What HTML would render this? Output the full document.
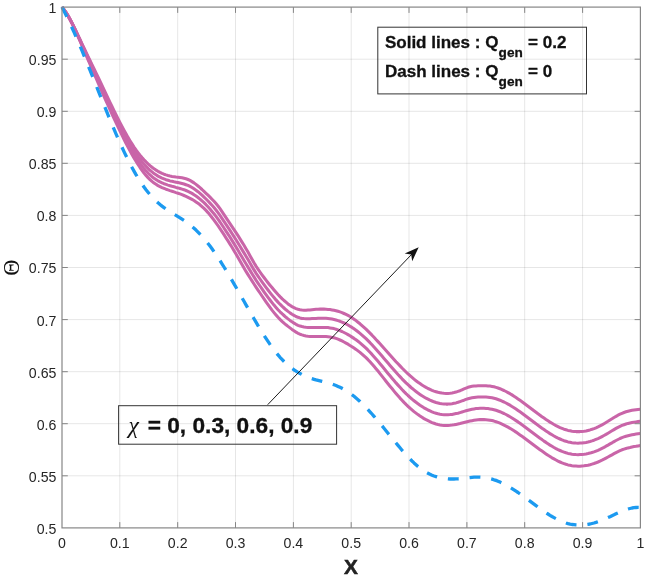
<!DOCTYPE html>
<html><head><meta charset="utf-8"><title>Plot</title>
<style>html,body{margin:0;padding:0;background:#fff}svg{display:block}text{font-family:"Liberation Sans",sans-serif}</style></head><body>
<svg width="645" height="577" viewBox="0 0 645 577">
<rect width="645" height="577" fill="#fff"/>
<path d="M119.8 7.1 V527.9 M177.7 7.1 V527.9 M235.5 7.1 V527.9 M293.4 7.1 V527.9 M351.2 7.1 V527.9 M409.0 7.1 V527.9 M466.9 7.1 V527.9 M524.7 7.1 V527.9 M582.6 7.1 V527.9" stroke="#000" stroke-opacity="0.105" stroke-width="0.95" fill="none"/>
<path d="M62.0 59.2 H640.4 M62.0 111.3 H640.4 M62.0 163.3 H640.4 M62.0 215.4 H640.4 M62.0 267.5 H640.4 M62.0 319.6 H640.4 M62.0 371.7 H640.4 M62.0 423.7 H640.4 M62.0 475.8 H640.4" stroke="#000" stroke-opacity="0.105" stroke-width="0.95" fill="none"/>
<path d="M62.0 7.1 L64.0 9.6 L66.0 12.5 L68.0 15.8 L70.0 19.5 L72.0 23.4 L74.0 27.6 L76.0 31.9 L78.0 36.4 L80.0 41.0 L82.0 45.6 L84.0 50.3 L86.0 54.9 L88.0 59.6 L90.0 64.2 L92.0 68.8 L94.0 73.4 L96.0 78.0 L98.0 82.6 L100.0 87.2 L102.0 91.8 L104.0 96.3 L106.0 100.8 L108.0 105.2 L110.0 109.7 L112.0 114.1 L114.0 118.4 L116.0 122.7 L118.0 126.9 L120.0 131.1 L122.0 135.2 L124.0 139.3 L126.0 143.2 L128.0 147.0 L130.0 150.8 L132.0 154.4 L134.0 157.9 L136.0 161.2 L138.0 164.5 L140.0 167.5 L142.0 170.3 L144.0 173.0 L146.0 175.4 L148.0 177.6 L150.0 179.6 L152.0 181.4 L154.0 183.0 L156.0 184.3 L158.0 185.6 L160.0 186.6 L162.0 187.6 L164.0 188.4 L166.0 189.2 L168.0 189.9 L170.0 190.6 L172.0 191.2 L174.0 191.9 L176.0 192.6 L178.0 193.2 L180.0 193.9 L182.0 194.7 L184.0 195.5 L186.0 196.3 L188.0 197.3 L190.0 198.3 L192.0 199.4 L194.0 200.5 L196.0 201.9 L198.0 203.3 L200.0 204.8 L202.0 206.6 L204.0 208.4 L206.0 210.4 L208.0 212.6 L210.0 215.0 L212.0 217.5 L214.0 220.1 L216.0 222.9 L218.0 225.7 L220.0 228.6 L222.0 231.6 L224.0 234.7 L226.0 237.8 L228.0 240.9 L230.0 244.1 L232.0 247.3 L234.0 250.7 L236.0 254.1 L238.0 257.6 L240.0 261.1 L242.0 264.6 L244.0 268.0 L246.0 271.4 L248.0 274.6 L250.0 277.8 L252.0 280.9 L254.0 284.0 L256.0 287.1 L258.0 290.1 L260.0 293.0 L262.0 296.0 L264.0 298.9 L266.0 301.8 L268.0 304.6 L270.0 307.4 L272.0 310.1 L274.0 312.6 L276.0 315.0 L278.0 317.3 L280.0 319.4 L282.0 321.3 L284.0 323.1 L286.0 324.8 L288.0 326.4 L290.0 327.9 L292.0 329.4 L294.0 330.8 L296.0 332.1 L298.0 333.3 L300.0 334.2 L302.0 334.9 L304.0 335.5 L306.0 335.9 L308.0 336.2 L310.0 336.4 L312.0 336.5 L314.0 336.5 L316.0 336.5 L318.0 336.5 L320.0 336.5 L322.0 336.5 L324.0 336.5 L326.0 336.6 L328.0 336.8 L330.0 337.0 L332.0 337.4 L334.0 337.8 L336.0 338.4 L338.0 339.2 L340.0 340.0 L342.0 340.9 L344.0 342.0 L346.0 343.1 L348.0 344.2 L350.0 345.5 L352.0 346.7 L354.0 348.0 L356.0 349.4 L358.0 350.9 L360.0 352.4 L362.0 354.1 L364.0 355.9 L366.0 357.7 L368.0 359.7 L370.0 361.8 L372.0 364.0 L374.0 366.3 L376.0 368.7 L378.0 371.1 L380.0 373.6 L382.0 376.1 L384.0 378.6 L386.0 381.2 L388.0 383.7 L390.0 386.2 L392.0 388.6 L394.0 391.1 L396.0 393.5 L398.0 395.8 L400.0 398.1 L402.0 400.2 L404.0 402.4 L406.0 404.4 L408.0 406.3 L410.0 408.2 L412.0 409.9 L414.0 411.6 L416.0 413.1 L418.0 414.6 L420.0 416.0 L422.0 417.3 L424.0 418.6 L426.0 419.7 L428.0 420.7 L430.0 421.7 L432.0 422.6 L434.0 423.3 L436.0 424.0 L438.0 424.5 L440.0 424.9 L442.0 425.2 L444.0 425.4 L446.0 425.5 L448.0 425.4 L450.0 425.3 L452.0 425.1 L454.0 424.8 L456.0 424.4 L458.0 424.0 L460.0 423.6 L462.0 423.1 L464.0 422.6 L466.0 422.1 L468.0 421.6 L470.0 421.1 L472.0 420.7 L474.0 420.3 L476.0 420.0 L478.0 419.8 L480.0 419.6 L482.0 419.6 L484.0 419.6 L486.0 419.7 L488.0 419.9 L490.0 420.2 L492.0 420.6 L494.0 421.1 L496.0 421.7 L498.0 422.4 L500.0 423.2 L502.0 424.1 L504.0 425.1 L506.0 426.1 L508.0 427.2 L510.0 428.3 L512.0 429.5 L514.0 430.8 L516.0 432.1 L518.0 433.5 L520.0 434.9 L522.0 436.3 L524.0 437.7 L526.0 439.2 L528.0 440.7 L530.0 442.2 L532.0 443.7 L534.0 445.2 L536.0 446.7 L538.0 448.2 L540.0 449.7 L542.0 451.1 L544.0 452.5 L546.0 453.9 L548.0 455.3 L550.0 456.5 L552.0 457.8 L554.0 458.9 L556.0 460.0 L558.0 461.1 L560.0 462.0 L562.0 462.9 L564.0 463.6 L566.0 464.3 L568.0 464.9 L570.0 465.3 L572.0 465.7 L574.0 466.0 L576.0 466.1 L578.0 466.2 L580.0 466.2 L582.0 466.0 L584.0 465.8 L586.0 465.5 L588.0 465.2 L590.0 464.7 L592.0 464.1 L594.0 463.5 L596.0 462.8 L598.0 462.0 L600.0 461.1 L602.0 460.2 L604.0 459.2 L606.0 458.1 L608.0 457.0 L610.0 455.9 L612.0 454.8 L614.0 453.7 L616.0 452.6 L618.0 451.6 L620.0 450.7 L622.0 449.8 L624.0 449.1 L626.0 448.5 L628.0 447.9 L630.0 447.5 L632.0 447.0 L634.0 446.6 L636.0 446.3 L638.0 445.9 L640.4 445.5" stroke="#c965a8" stroke-width="3.05" fill="none" stroke-linejoin="round"/>
<path d="M62.0 7.1 L64.0 9.6 L66.0 12.5 L68.0 15.8 L70.0 19.4 L72.0 23.2 L74.0 27.3 L76.0 31.6 L78.0 36.0 L80.0 40.5 L82.0 45.0 L84.0 49.5 L86.0 54.0 L88.0 58.5 L90.0 62.9 L92.0 67.4 L94.0 71.8 L96.0 76.3 L98.0 80.7 L100.0 85.2 L102.0 89.6 L104.0 94.1 L106.0 98.5 L108.0 102.9 L110.0 107.2 L112.0 111.5 L114.0 115.8 L116.0 120.0 L118.0 124.2 L120.0 128.3 L122.0 132.3 L124.0 136.2 L126.0 140.1 L128.0 143.8 L130.0 147.4 L132.0 150.9 L134.0 154.3 L136.0 157.5 L138.0 160.5 L140.0 163.4 L142.0 166.1 L144.0 168.6 L146.0 170.9 L148.0 173.0 L150.0 174.9 L152.0 176.7 L154.0 178.2 L156.0 179.6 L158.0 180.8 L160.0 181.9 L162.0 182.8 L164.0 183.7 L166.0 184.4 L168.0 185.1 L170.0 185.7 L172.0 186.3 L174.0 186.8 L176.0 187.4 L178.0 187.9 L180.0 188.5 L182.0 189.1 L184.0 189.7 L186.0 190.5 L188.0 191.4 L190.0 192.3 L192.0 193.4 L194.0 194.7 L196.0 196.0 L198.0 197.5 L200.0 199.1 L202.0 200.9 L204.0 202.7 L206.0 204.7 L208.0 206.8 L210.0 209.0 L212.0 211.4 L214.0 213.8 L216.0 216.4 L218.0 219.2 L220.0 222.0 L222.0 225.0 L224.0 228.0 L226.0 231.1 L228.0 234.1 L230.0 237.2 L232.0 240.4 L234.0 243.6 L236.0 246.9 L238.0 250.3 L240.0 253.7 L242.0 257.1 L244.0 260.5 L246.0 263.8 L248.0 267.1 L250.0 270.4 L252.0 273.7 L254.0 276.9 L256.0 280.1 L258.0 283.1 L260.0 286.0 L262.0 288.9 L264.0 291.8 L266.0 294.6 L268.0 297.3 L270.0 300.0 L272.0 302.6 L274.0 305.1 L276.0 307.4 L278.0 309.7 L280.0 311.8 L282.0 313.7 L284.0 315.5 L286.0 317.3 L288.0 318.9 L290.0 320.4 L292.0 321.8 L294.0 323.1 L296.0 324.3 L298.0 325.3 L300.0 326.1 L302.0 326.6 L304.0 327.0 L306.0 327.3 L308.0 327.5 L310.0 327.5 L312.0 327.5 L314.0 327.5 L316.0 327.4 L318.0 327.4 L320.0 327.4 L322.0 327.4 L324.0 327.4 L326.0 327.5 L328.0 327.6 L330.0 327.9 L332.0 328.2 L334.0 328.6 L336.0 329.2 L338.0 329.9 L340.0 330.6 L342.0 331.5 L344.0 332.5 L346.0 333.5 L348.0 334.6 L350.0 335.8 L352.0 337.1 L354.0 338.4 L356.0 339.8 L358.0 341.3 L360.0 342.9 L362.0 344.6 L364.0 346.4 L366.0 348.2 L368.0 350.2 L370.0 352.3 L372.0 354.4 L374.0 356.7 L376.0 359.0 L378.0 361.3 L380.0 363.7 L382.0 366.1 L384.0 368.5 L386.0 371.0 L388.0 373.4 L390.0 375.8 L392.0 378.2 L394.0 380.5 L396.0 382.9 L398.0 385.1 L400.0 387.3 L402.0 389.5 L404.0 391.6 L406.0 393.6 L408.0 395.5 L410.0 397.3 L412.0 399.1 L414.0 400.7 L416.0 402.3 L418.0 403.8 L420.0 405.2 L422.0 406.5 L424.0 407.8 L426.0 408.9 L428.0 410.0 L430.0 410.9 L432.0 411.8 L434.0 412.6 L436.0 413.2 L438.0 413.8 L440.0 414.2 L442.0 414.5 L444.0 414.7 L446.0 414.8 L448.0 414.7 L450.0 414.6 L452.0 414.4 L454.0 414.0 L456.0 413.6 L458.0 413.2 L460.0 412.6 L462.0 412.0 L464.0 411.4 L466.0 410.8 L468.0 410.2 L470.0 409.7 L472.0 409.2 L474.0 408.9 L476.0 408.6 L478.0 408.4 L480.0 408.3 L482.0 408.3 L484.0 408.3 L486.0 408.4 L488.0 408.6 L490.0 408.9 L492.0 409.2 L494.0 409.7 L496.0 410.3 L498.0 411.0 L500.0 411.7 L502.0 412.6 L504.0 413.5 L506.0 414.5 L508.0 415.6 L510.0 416.8 L512.0 418.0 L514.0 419.3 L516.0 420.6 L518.0 421.9 L520.0 423.3 L522.0 424.8 L524.0 426.2 L526.0 427.7 L528.0 429.2 L530.0 430.7 L532.0 432.2 L534.0 433.7 L536.0 435.2 L538.0 436.7 L540.0 438.2 L542.0 439.6 L544.0 441.1 L546.0 442.4 L548.0 443.8 L550.0 445.1 L552.0 446.3 L554.0 447.5 L556.0 448.6 L558.0 449.6 L560.0 450.5 L562.0 451.4 L564.0 452.1 L566.0 452.8 L568.0 453.4 L570.0 453.8 L572.0 454.2 L574.0 454.4 L576.0 454.6 L578.0 454.7 L580.0 454.6 L582.0 454.5 L584.0 454.3 L586.0 454.0 L588.0 453.6 L590.0 453.1 L592.0 452.5 L594.0 451.9 L596.0 451.1 L598.0 450.3 L600.0 449.4 L602.0 448.4 L604.0 447.4 L606.0 446.2 L608.0 445.1 L610.0 443.9 L612.0 442.8 L614.0 441.6 L616.0 440.5 L618.0 439.5 L620.0 438.5 L622.0 437.6 L624.0 436.9 L626.0 436.2 L628.0 435.7 L630.0 435.2 L632.0 434.8 L634.0 434.4 L636.0 434.1 L638.0 433.8 L640.4 433.4" stroke="#c965a8" stroke-width="3.05" fill="none" stroke-linejoin="round"/>
<path d="M62.0 7.1 L64.0 9.6 L66.0 12.5 L68.0 15.7 L70.0 19.3 L72.0 23.1 L74.0 27.1 L76.0 31.3 L78.0 35.6 L80.0 40.0 L82.0 44.4 L84.0 48.8 L86.0 53.1 L88.0 57.4 L90.0 61.7 L92.0 66.0 L94.0 70.3 L96.0 74.5 L98.0 78.8 L100.0 83.2 L102.0 87.5 L104.0 91.8 L106.0 96.2 L108.0 100.5 L110.0 104.8 L112.0 109.0 L114.0 113.2 L116.0 117.4 L118.0 121.4 L120.0 125.5 L122.0 129.4 L124.0 133.2 L126.0 137.0 L128.0 140.6 L130.0 144.1 L132.0 147.4 L134.0 150.6 L136.0 153.7 L138.0 156.6 L140.0 159.3 L142.0 161.8 L144.0 164.2 L146.0 166.4 L148.0 168.4 L150.0 170.3 L152.0 171.9 L154.0 173.5 L156.0 174.8 L158.0 176.1 L160.0 177.1 L162.0 178.1 L164.0 178.9 L166.0 179.7 L168.0 180.3 L170.0 180.9 L172.0 181.3 L174.0 181.8 L176.0 182.2 L178.0 182.6 L180.0 183.0 L182.0 183.5 L184.0 184.0 L186.0 184.7 L188.0 185.4 L190.0 186.4 L192.0 187.5 L194.0 188.8 L196.0 190.2 L198.0 191.7 L200.0 193.4 L202.0 195.2 L204.0 197.1 L206.0 199.0 L208.0 201.0 L210.0 203.1 L212.0 205.3 L214.0 207.6 L216.0 210.0 L218.0 212.6 L220.0 215.4 L222.0 218.3 L224.0 221.3 L226.0 224.3 L228.0 227.4 L230.0 230.4 L232.0 233.5 L234.0 236.6 L236.0 239.8 L238.0 243.0 L240.0 246.3 L242.0 249.6 L244.0 252.9 L246.0 256.2 L248.0 259.6 L250.0 263.0 L252.0 266.5 L254.0 269.9 L256.0 273.1 L258.0 276.1 L260.0 279.0 L262.0 281.8 L264.0 284.6 L266.0 287.3 L268.0 290.0 L270.0 292.6 L272.0 295.1 L274.0 297.5 L276.0 299.9 L278.0 302.1 L280.0 304.2 L282.0 306.2 L284.0 308.0 L286.0 309.8 L288.0 311.4 L290.0 312.9 L292.0 314.2 L294.0 315.4 L296.0 316.5 L298.0 317.3 L300.0 317.9 L302.0 318.4 L304.0 318.6 L306.0 318.7 L308.0 318.8 L310.0 318.7 L312.0 318.6 L314.0 318.5 L316.0 318.4 L318.0 318.3 L320.0 318.2 L322.0 318.2 L324.0 318.3 L326.0 318.3 L328.0 318.5 L330.0 318.7 L332.0 319.1 L334.0 319.5 L336.0 320.0 L338.0 320.6 L340.0 321.3 L342.0 322.1 L344.0 323.0 L346.0 323.9 L348.0 325.0 L350.0 326.2 L352.0 327.4 L354.0 328.8 L356.0 330.2 L358.0 331.8 L360.0 333.4 L362.0 335.1 L364.0 336.9 L366.0 338.7 L368.0 340.7 L370.0 342.7 L372.0 344.8 L374.0 347.0 L376.0 349.2 L378.0 351.5 L380.0 353.8 L382.0 356.1 L384.0 358.4 L386.0 360.8 L388.0 363.1 L390.0 365.4 L392.0 367.7 L394.0 370.0 L396.0 372.3 L398.0 374.5 L400.0 376.6 L402.0 378.8 L404.0 380.8 L406.0 382.8 L408.0 384.7 L410.0 386.5 L412.0 388.3 L414.0 389.9 L416.0 391.5 L418.0 393.0 L420.0 394.4 L422.0 395.8 L424.0 397.0 L426.0 398.2 L428.0 399.2 L430.0 400.2 L432.0 401.0 L434.0 401.8 L436.0 402.5 L438.0 403.0 L440.0 403.5 L442.0 403.8 L444.0 404.0 L446.0 404.1 L448.0 404.1 L450.0 403.9 L452.0 403.7 L454.0 403.3 L456.0 402.9 L458.0 402.3 L460.0 401.6 L462.0 400.9 L464.0 400.2 L466.0 399.4 L468.0 398.8 L470.0 398.2 L472.0 397.8 L474.0 397.5 L476.0 397.2 L478.0 397.1 L480.0 397.0 L482.0 397.0 L484.0 397.0 L486.0 397.1 L488.0 397.2 L490.0 397.5 L492.0 397.8 L494.0 398.3 L496.0 398.8 L498.0 399.5 L500.0 400.2 L502.0 401.1 L504.0 402.0 L506.0 403.0 L508.0 404.1 L510.0 405.2 L512.0 406.5 L514.0 407.7 L516.0 409.0 L518.0 410.4 L520.0 411.8 L522.0 413.2 L524.0 414.7 L526.0 416.2 L528.0 417.7 L530.0 419.2 L532.0 420.7 L534.0 422.2 L536.0 423.8 L538.0 425.2 L540.0 426.7 L542.0 428.2 L544.0 429.6 L546.0 431.0 L548.0 432.3 L550.0 433.6 L552.0 434.8 L554.0 436.0 L556.0 437.1 L558.0 438.1 L560.0 439.0 L562.0 439.9 L564.0 440.7 L566.0 441.3 L568.0 441.9 L570.0 442.3 L572.0 442.7 L574.0 442.9 L576.0 443.1 L578.0 443.2 L580.0 443.1 L582.0 443.0 L584.0 442.7 L586.0 442.4 L588.0 442.0 L590.0 441.5 L592.0 440.9 L594.0 440.2 L596.0 439.4 L598.0 438.6 L600.0 437.7 L602.0 436.6 L604.0 435.5 L606.0 434.4 L608.0 433.2 L610.0 432.0 L612.0 430.8 L614.0 429.6 L616.0 428.4 L618.0 427.3 L620.0 426.3 L622.0 425.4 L624.0 424.7 L626.0 424.0 L628.0 423.4 L630.0 422.9 L632.0 422.5 L634.0 422.2 L636.0 421.9 L638.0 421.6 L640.4 421.3" stroke="#c965a8" stroke-width="3.05" fill="none" stroke-linejoin="round"/>
<path d="M62.0 7.1 L64.0 9.6 L66.0 12.4 L68.0 15.6 L70.0 19.2 L72.0 22.9 L74.0 26.9 L76.0 31.0 L78.0 35.3 L80.0 39.5 L82.0 43.8 L84.0 48.0 L86.0 52.2 L88.0 56.3 L90.0 60.4 L92.0 64.6 L94.0 68.7 L96.0 72.8 L98.0 77.0 L100.0 81.2 L102.0 85.4 L104.0 89.6 L106.0 93.8 L108.0 98.1 L110.0 102.3 L112.0 106.5 L114.0 110.6 L116.0 114.7 L118.0 118.7 L120.0 122.6 L122.0 126.5 L124.0 130.2 L126.0 133.8 L128.0 137.4 L130.0 140.7 L132.0 143.9 L134.0 147.0 L136.0 149.9 L138.0 152.6 L140.0 155.2 L142.0 157.6 L144.0 159.8 L146.0 161.9 L148.0 163.8 L150.0 165.6 L152.0 167.2 L154.0 168.7 L156.0 170.1 L158.0 171.3 L160.0 172.4 L162.0 173.4 L164.0 174.2 L166.0 174.9 L168.0 175.5 L170.0 176.0 L172.0 176.4 L174.0 176.7 L176.0 177.0 L178.0 177.2 L180.0 177.5 L182.0 177.8 L184.0 178.3 L186.0 178.8 L188.0 179.5 L190.0 180.4 L192.0 181.6 L194.0 182.9 L196.0 184.4 L198.0 186.0 L200.0 187.7 L202.0 189.5 L204.0 191.4 L206.0 193.3 L208.0 195.2 L210.0 197.1 L212.0 199.2 L214.0 201.3 L216.0 203.6 L218.0 206.0 L220.0 208.7 L222.0 211.6 L224.0 214.6 L226.0 217.6 L228.0 220.6 L230.0 223.6 L232.0 226.6 L234.0 229.6 L236.0 232.6 L238.0 235.7 L240.0 238.9 L242.0 242.1 L244.0 245.3 L246.0 248.7 L248.0 252.1 L250.0 255.7 L252.0 259.3 L254.0 262.8 L256.0 266.1 L258.0 269.1 L260.0 272.0 L262.0 274.8 L264.0 277.5 L266.0 280.1 L268.0 282.7 L270.0 285.2 L272.0 287.6 L274.0 290.0 L276.0 292.3 L278.0 294.5 L280.0 296.6 L282.0 298.6 L284.0 300.5 L286.0 302.2 L288.0 303.9 L290.0 305.3 L292.0 306.6 L294.0 307.7 L296.0 308.6 L298.0 309.3 L300.0 309.8 L302.0 310.1 L304.0 310.2 L306.0 310.2 L308.0 310.0 L310.0 309.9 L312.0 309.7 L314.0 309.5 L316.0 309.3 L318.0 309.2 L320.0 309.1 L322.0 309.1 L324.0 309.1 L326.0 309.2 L328.0 309.4 L330.0 309.6 L332.0 309.9 L334.0 310.3 L336.0 310.7 L338.0 311.3 L340.0 311.9 L342.0 312.6 L344.0 313.5 L346.0 314.4 L348.0 315.4 L350.0 316.5 L352.0 317.8 L354.0 319.2 L356.0 320.6 L358.0 322.2 L360.0 323.8 L362.0 325.6 L364.0 327.4 L366.0 329.2 L368.0 331.2 L370.0 333.2 L372.0 335.2 L374.0 337.3 L376.0 339.5 L378.0 341.6 L380.0 343.8 L382.0 346.1 L384.0 348.3 L386.0 350.5 L388.0 352.8 L390.0 355.0 L392.0 357.3 L394.0 359.5 L396.0 361.7 L398.0 363.8 L400.0 365.9 L402.0 368.0 L404.0 370.0 L406.0 372.0 L408.0 373.9 L410.0 375.7 L412.0 377.4 L414.0 379.1 L416.0 380.7 L418.0 382.2 L420.0 383.6 L422.0 385.0 L424.0 386.2 L426.0 387.4 L428.0 388.5 L430.0 389.4 L432.0 390.3 L434.0 391.1 L436.0 391.7 L438.0 392.3 L440.0 392.7 L442.0 393.1 L444.0 393.3 L446.0 393.4 L448.0 393.4 L450.0 393.3 L452.0 393.0 L454.0 392.6 L456.0 392.1 L458.0 391.4 L460.0 390.7 L462.0 389.8 L464.0 388.9 L466.0 388.1 L468.0 387.3 L470.0 386.7 L472.0 386.3 L474.0 386.0 L476.0 385.9 L478.0 385.8 L480.0 385.7 L482.0 385.7 L484.0 385.7 L486.0 385.7 L488.0 385.9 L490.0 386.1 L492.0 386.4 L494.0 386.8 L496.0 387.4 L498.0 388.0 L500.0 388.7 L502.0 389.6 L504.0 390.5 L506.0 391.5 L508.0 392.6 L510.0 393.7 L512.0 394.9 L514.0 396.2 L516.0 397.5 L518.0 398.9 L520.0 400.3 L522.0 401.7 L524.0 403.2 L526.0 404.7 L528.0 406.2 L530.0 407.7 L532.0 409.2 L534.0 410.8 L536.0 412.3 L538.0 413.8 L540.0 415.2 L542.0 416.7 L544.0 418.1 L546.0 419.5 L548.0 420.8 L550.0 422.1 L552.0 423.3 L554.0 424.5 L556.0 425.6 L558.0 426.6 L560.0 427.6 L562.0 428.4 L564.0 429.2 L566.0 429.8 L568.0 430.4 L570.0 430.8 L572.0 431.2 L574.0 431.4 L576.0 431.6 L578.0 431.6 L580.0 431.6 L582.0 431.4 L584.0 431.2 L586.0 430.9 L588.0 430.4 L590.0 429.9 L592.0 429.3 L594.0 428.6 L596.0 427.8 L598.0 426.9 L600.0 425.9 L602.0 424.9 L604.0 423.7 L606.0 422.5 L608.0 421.3 L610.0 420.0 L612.0 418.8 L614.0 417.5 L616.0 416.4 L618.0 415.2 L620.0 414.2 L622.0 413.3 L624.0 412.5 L626.0 411.8 L628.0 411.2 L630.0 410.7 L632.0 410.3 L634.0 410.0 L636.0 409.7 L638.0 409.4 L640.4 409.2" stroke="#c965a8" stroke-width="3.05" fill="none" stroke-linejoin="round"/>
<path d="M62.0 7.1 L64.0 11.0 L66.0 15.0 L68.0 19.2 L70.0 23.4 L72.0 27.7 L74.0 32.2 L76.0 36.7 L78.0 41.3 L80.0 46.0 L82.0 50.7 L84.0 55.5 L86.0 60.4 L88.0 65.3 L90.0 70.2 L92.0 75.1 L94.0 80.1 L96.0 85.1 L98.0 90.1 L100.0 95.1 L102.0 100.0 L104.0 105.0 L106.0 109.9 L108.0 114.8 L110.0 119.6 L112.0 124.4 L114.0 129.2 L116.0 133.8 L118.0 138.4 L120.0 142.9 L122.0 147.3 L124.0 151.6 L126.0 155.7 L128.0 159.8 L130.0 163.7 L132.0 167.5 L134.0 171.1 L136.0 174.6 L138.0 177.9 L140.0 181.1 L142.0 184.1 L144.0 187.0 L146.0 189.7 L148.0 192.2 L150.0 194.6 L152.0 196.9 L154.0 199.0 L156.0 201.0 L158.0 202.8 L160.0 204.5 L162.0 206.1 L164.0 207.6 L166.0 209.0 L168.0 210.4 L170.0 211.7 L172.0 213.0 L174.0 214.2 L176.0 215.4 L178.0 216.7 L180.0 217.9 L182.0 219.2 L184.0 220.5 L186.0 221.9 L188.0 223.4 L190.0 224.9 L192.0 226.6 L194.0 228.3 L196.0 230.1 L198.0 232.1 L200.0 234.2 L202.0 236.3 L204.0 238.6 L206.0 241.0 L208.0 243.5 L210.0 246.1 L212.0 248.8 L214.0 251.7 L216.0 254.6 L218.0 257.6 L220.0 260.6 L222.0 263.8 L224.0 267.0 L226.0 270.3 L228.0 273.6 L230.0 276.9 L232.0 280.4 L234.0 283.8 L236.0 287.3 L238.0 290.8 L240.0 294.3 L242.0 297.8 L244.0 301.3 L246.0 304.9 L248.0 308.4 L250.0 311.9 L252.0 315.3 L254.0 318.8 L256.0 322.2 L258.0 325.6 L260.0 328.9 L262.0 332.1 L264.0 335.3 L266.0 338.4 L268.0 341.4 L270.0 344.4 L272.0 347.2 L274.0 349.9 L276.0 352.5 L278.0 354.9 L280.0 357.3 L282.0 359.4 L284.0 361.5 L286.0 363.4 L288.0 365.2 L290.0 366.8 L292.0 368.4 L294.0 369.8 L296.0 371.2 L298.0 372.4 L300.0 373.5 L302.0 374.6 L304.0 375.6 L306.0 376.5 L308.0 377.3 L310.0 378.0 L312.0 378.7 L314.0 379.3 L316.0 379.9 L318.0 380.4 L320.0 380.9 L322.0 381.4 L324.0 381.9 L326.0 382.4 L328.0 382.9 L330.0 383.5 L332.0 384.1 L334.0 384.8 L336.0 385.5 L338.0 386.4 L340.0 387.3 L342.0 388.3 L344.0 389.4 L346.0 390.6 L348.0 391.8 L350.0 393.2 L352.0 394.7 L354.0 396.3 L356.0 398.0 L358.0 399.7 L360.0 401.5 L362.0 403.5 L364.0 405.5 L366.0 407.5 L368.0 409.6 L370.0 411.8 L372.0 414.0 L374.0 416.3 L376.0 418.6 L378.0 421.0 L380.0 423.4 L382.0 425.8 L384.0 428.2 L386.0 430.7 L388.0 433.2 L390.0 435.6 L392.0 438.1 L394.0 440.6 L396.0 443.0 L398.0 445.4 L400.0 447.8 L402.0 450.2 L404.0 452.5 L406.0 454.7 L408.0 456.9 L410.0 459.0 L412.0 461.0 L414.0 462.9 L416.0 464.7 L418.0 466.5 L420.0 468.1 L422.0 469.6 L424.0 470.9 L426.0 472.2 L428.0 473.3 L430.0 474.3 L432.0 475.2 L434.0 476.0 L436.0 476.6 L438.0 477.2 L440.0 477.7 L442.0 478.1 L444.0 478.5 L446.0 478.7 L448.0 478.9 L450.0 479.0 L452.0 479.0 L454.0 479.0 L456.0 478.9 L458.0 478.8 L460.0 478.7 L462.0 478.5 L464.0 478.2 L466.0 478.0 L468.0 477.8 L470.0 477.6 L472.0 477.4 L474.0 477.2 L476.0 477.2 L478.0 477.1 L480.0 477.2 L482.0 477.3 L484.0 477.5 L486.0 477.8 L488.0 478.2 L490.0 478.6 L492.0 479.1 L494.0 479.8 L496.0 480.4 L498.0 481.2 L500.0 482.1 L502.0 483.0 L504.0 484.0 L506.0 485.1 L508.0 486.2 L510.0 487.4 L512.0 488.6 L514.0 489.9 L516.0 491.2 L518.0 492.5 L520.0 493.9 L522.0 495.3 L524.0 496.7 L526.0 498.2 L528.0 499.7 L530.0 501.1 L532.0 502.6 L534.0 504.1 L536.0 505.6 L538.0 507.1 L540.0 508.5 L542.0 509.9 L544.0 511.3 L546.0 512.7 L548.0 514.0 L550.0 515.3 L552.0 516.5 L554.0 517.6 L556.0 518.7 L558.0 519.8 L560.0 520.7 L562.0 521.6 L564.0 522.3 L566.0 523.0 L568.0 523.6 L570.0 524.1 L572.0 524.5 L574.0 524.7 L576.0 524.9 L578.0 525.0 L580.0 525.1 L582.0 525.0 L584.0 524.9 L586.0 524.6 L588.0 524.3 L590.0 524.0 L592.0 523.5 L594.0 523.0 L596.0 522.4 L598.0 521.7 L600.0 521.0 L602.0 520.2 L604.0 519.4 L606.0 518.5 L608.0 517.6 L610.0 516.7 L612.0 515.7 L614.0 514.8 L616.0 513.8 L618.0 512.9 L620.0 512.0 L622.0 511.2 L624.0 510.4 L626.0 509.7 L628.0 509.0 L630.0 508.5 L632.0 508.0 L634.0 507.7 L636.0 507.5 L638.0 507.4 L640.4 507.5" stroke="#1c9af0" stroke-width="3.3" fill="none" stroke-dasharray="10.85 10.94" stroke-linejoin="round"/>
<path d="M119.8 527.9 v-5.8 M119.8 7.1 v5.8 M62.0 59.2 h5.8 M640.4 59.2 h-5.8 M177.7 527.9 v-5.8 M177.7 7.1 v5.8 M62.0 111.3 h5.8 M640.4 111.3 h-5.8 M235.5 527.9 v-5.8 M235.5 7.1 v5.8 M62.0 163.3 h5.8 M640.4 163.3 h-5.8 M293.4 527.9 v-5.8 M293.4 7.1 v5.8 M62.0 215.4 h5.8 M640.4 215.4 h-5.8 M351.2 527.9 v-5.8 M351.2 7.1 v5.8 M62.0 267.5 h5.8 M640.4 267.5 h-5.8 M409.0 527.9 v-5.8 M409.0 7.1 v5.8 M62.0 319.6 h5.8 M640.4 319.6 h-5.8 M466.9 527.9 v-5.8 M466.9 7.1 v5.8 M62.0 371.7 h5.8 M640.4 371.7 h-5.8 M524.7 527.9 v-5.8 M524.7 7.1 v5.8 M62.0 423.7 h5.8 M640.4 423.7 h-5.8 M582.6 527.9 v-5.8 M582.6 7.1 v5.8 M62.0 475.8 h5.8 M640.4 475.8 h-5.8" stroke="#868686" stroke-width="1" fill="none"/>
<rect x="62.0" y="7.1" width="578.4" height="520.8" stroke="#868686" stroke-width="1.2" fill="none"/>
<text x="62.0" y="548.1" font-size="14.15" fill="#262626" text-anchor="middle">0</text>
<text x="119.8" y="548.1" font-size="14.15" fill="#262626" text-anchor="middle">0.1</text>
<text x="177.7" y="548.1" font-size="14.15" fill="#262626" text-anchor="middle">0.2</text>
<text x="235.5" y="548.1" font-size="14.15" fill="#262626" text-anchor="middle">0.3</text>
<text x="293.4" y="548.1" font-size="14.15" fill="#262626" text-anchor="middle">0.4</text>
<text x="351.2" y="548.1" font-size="14.15" fill="#262626" text-anchor="middle">0.5</text>
<text x="409.0" y="548.1" font-size="14.15" fill="#262626" text-anchor="middle">0.6</text>
<text x="466.9" y="548.1" font-size="14.15" fill="#262626" text-anchor="middle">0.7</text>
<text x="524.7" y="548.1" font-size="14.15" fill="#262626" text-anchor="middle">0.8</text>
<text x="582.6" y="548.1" font-size="14.15" fill="#262626" text-anchor="middle">0.9</text>
<text x="640.4" y="548.1" font-size="14.15" fill="#262626" text-anchor="middle">1</text>
<text x="56.4" y="13.0" font-size="14.15" fill="#262626" text-anchor="end">1</text>
<text x="56.4" y="65.1" font-size="14.15" fill="#262626" text-anchor="end">0.95</text>
<text x="56.4" y="117.2" font-size="14.15" fill="#262626" text-anchor="end">0.9</text>
<text x="56.4" y="169.2" font-size="14.15" fill="#262626" text-anchor="end">0.85</text>
<text x="56.4" y="221.3" font-size="14.15" fill="#262626" text-anchor="end">0.8</text>
<text x="56.4" y="273.4" font-size="14.15" fill="#262626" text-anchor="end">0.75</text>
<text x="56.4" y="325.5" font-size="14.15" fill="#262626" text-anchor="end">0.7</text>
<text x="56.4" y="377.6" font-size="14.15" fill="#262626" text-anchor="end">0.65</text>
<text x="56.4" y="429.6" font-size="14.15" fill="#262626" text-anchor="end">0.6</text>
<text x="56.4" y="481.7" font-size="14.15" fill="#262626" text-anchor="end">0.55</text>
<text x="56.4" y="533.8" font-size="14.15" fill="#262626" text-anchor="end">0.5</text>
<text x="351.0" y="573.9" font-size="20.8" font-weight="bold" fill="#222" stroke="#222" stroke-width="0.5" text-anchor="middle">X</text>
<text transform="translate(19.3 267.5) rotate(-90)" font-family="'Liberation Serif',serif" style="font-family:'Liberation Serif',serif" font-size="22.5" fill="#111" text-anchor="middle">Θ</text>
<rect x="377.8" y="27.2" width="208.7" height="66.7" stroke="#333" stroke-width="1" fill="none"/>
<text y="47.9" font-size="17.05" font-weight="bold" fill="#111" stroke="#111" stroke-width="0.3"><tspan x="384.9">Solid lines : Q</tspan><tspan x="498.6" y="56.9" font-size="13.6">gen</tspan><tspan x="528.1" y="47.9">= 0.2</tspan></text>
<text y="76.5" font-size="17.05" font-weight="bold" fill="#111" stroke="#111" stroke-width="0.3"><tspan x="384.9">Dash lines : Q</tspan><tspan x="498.6" y="85.5" font-size="13.6">gen</tspan><tspan x="528.1" y="76.5">= 0</tspan></text>
<path d="M267.7 404.7 L412 254" stroke="#1c1c1c" stroke-width="1" fill="none"/>
<path d="M418.7 247.2 L404.7 253.4 L411.2 254.4 L412.2 261.2 Z" fill="#111"/>
<rect x="118.6" y="405.7" width="218.0" height="38.5" stroke="#333" stroke-width="1" fill="none"/>
<text y="432.8" font-size="22.7" font-weight="bold" fill="#111" stroke="#111" stroke-width="0.3"><tspan x="128.5" style="font-family:'Liberation Serif',serif;font-style:italic;font-weight:normal" font-size="23.5" stroke="none">χ</tspan><tspan x="147.7">= 0, 0.3, 0.6, 0.9</tspan></text>
</svg></body></html>
